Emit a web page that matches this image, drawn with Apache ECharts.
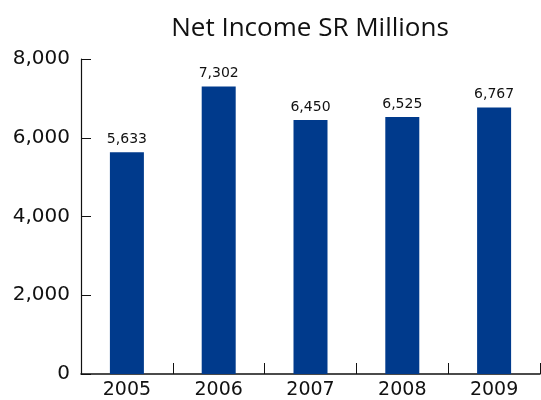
<!DOCTYPE html>
<html>
<head>
<meta charset="utf-8">
<script src="https://cdn.jsdelivr.net/npm/echarts@6/dist/echarts.min.js"></script>
<style>
  html, body { margin: 0; padding: 0; background: #ffffff; }
  #chart { width: 541px; height: 400px; }
</style>
</head>
<body>
<div id="chart"></div>
<script>
// Net income by year, SR millions
const years = ['2005', '2006', '2007', '2008', '2009'];
const netIncome = [5633, 7302, 6450, 6525, 6767];
const yTicks = [0, 2000, 4000, 6000, 8000];

const TITLE_FONT = '"Open Sans", sans-serif';
const NUM_FONT = '"DejaVu Sans", sans-serif';
const fmt = v => v.toLocaleString('en-US');

const chart = echarts.init(document.getElementById('chart'), null, { renderer: 'canvas' });

chart.setOption({
  animation: false,
  backgroundColor: '#ffffff',
  title: {
    text: 'Net Income SR Millions',
    left: 305,
    textAlign: 'center',
    top: 11,
    textStyle: { fontFamily: TITLE_FONT, fontSize: 26, fontWeight: 'normal', color: '#111111' }
  },
  grid: { left: 81, right: 1, top: 59, bottom: 26, containLabel: false },
  xAxis: {
    type: 'category',
    data: years,
    boundaryGap: true,
    axisLine: { lineStyle: { color: '#111111', width: 1.5 } },
    axisTick: { show: true, inside: true, length: 11, alignWithLabel: false, lineStyle: { color: '#111111', width: 1 } },
    axisLabel: { fontFamily: NUM_FONT, fontSize: 19, color: '#111111', margin: 7 }
  },
  yAxis: {
    type: 'value',
    min: yTicks[0],
    max: yTicks[yTicks.length - 1],
    interval: yTicks[1] - yTicks[0],
    splitLine: { show: false },
    axisLine: { show: true, lineStyle: { color: '#111111', width: 1.2 } },
    axisTick: { show: true, inside: true, length: 10, lineStyle: { color: '#111111', width: 1 } },
    axisLabel: { fontFamily: NUM_FONT, fontSize: 20, color: '#111111', margin: 11, formatter: v => fmt(v) }
  },
  series: [{
    type: 'bar',
    data: netIncome,
    barWidth: 34,
    itemStyle: { color: '#003a8c' },
    label: {
      show: true,
      position: 'top',
      distance: 6,
      fontFamily: NUM_FONT,
      fontSize: 14,
      color: '#111111',
      formatter: p => fmt(p.value)
    }
  }]
});
</script>
</body>
</html>
